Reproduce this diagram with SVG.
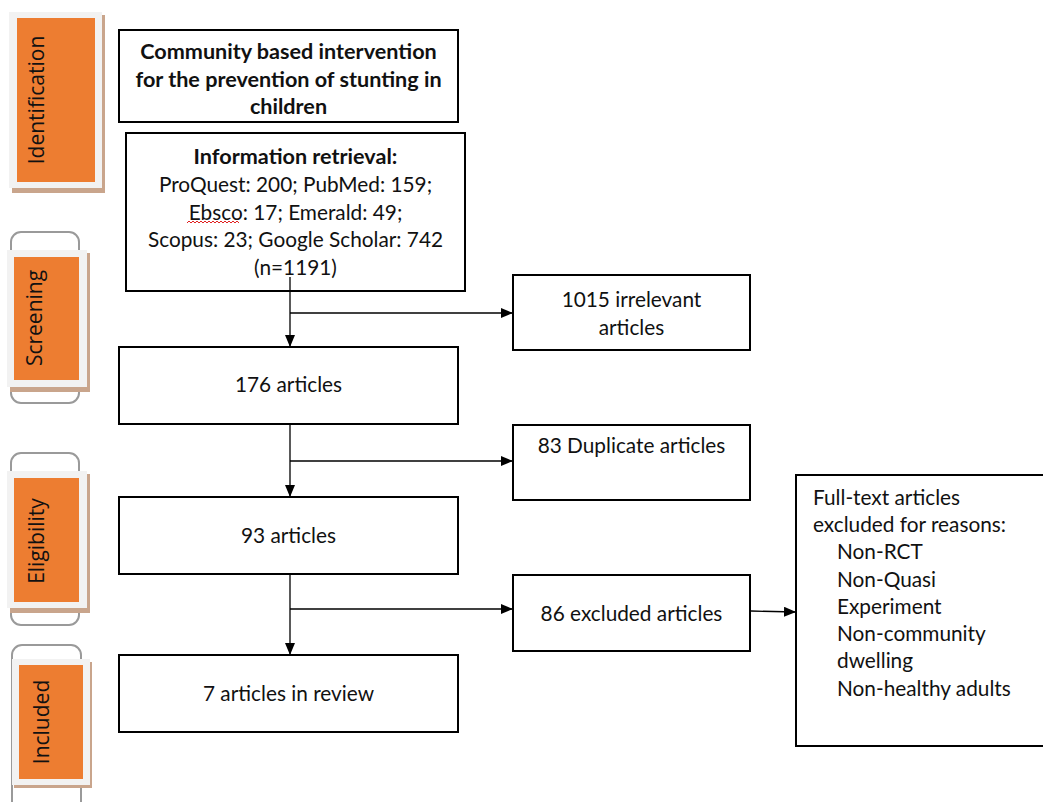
<svg xmlns="http://www.w3.org/2000/svg" width="1043" height="802" viewBox="0 0 1043 802">
<style>
.box{fill:#fff;stroke:#000;stroke-width:2}
.t{font-family:Lato,"Liberation Sans",sans-serif;font-size:20.8px;fill:#111;text-anchor:middle}
.b{font-weight:bold;font-size:21.6px}
.l{text-anchor:start}
.conn{stroke:#000;stroke-width:1.3;fill:none}
.br{fill:none;stroke:#9a9a9a;stroke-width:2}
.gr{fill:#f2f2f2}
.sh{fill:#c9a58c}
.or{fill:#ed7d31}
.side{font-family:"Open Sans","Noto Sans",sans-serif;font-size:21px;fill:#111;text-anchor:middle}
</style>
<defs>
<marker id="ah" markerWidth="12" markerHeight="10" refX="12" refY="5" orient="auto" markerUnits="userSpaceOnUse">
<path d="M0,0 L12,5 L0,10 Z" fill="#000"/>
</marker>
</defs>
<rect width="1043" height="802" fill="#fff"/>

<g id="stage-identification">
<rect class="sh" x="12" y="15" width="93" height="178"/>
<rect class="gr" x="9" y="12" width="93" height="176"/>
<rect class="or" x="17" y="18" width="78" height="164"/>
<text class="side" transform="translate(37,100) rotate(-90)" dy="7">Identification</text>
</g>
<g id="stage-screening">
<rect class="br" x="11" y="232" width="68" height="171" rx="10"/>
<rect class="sh" x="10" y="253" width="80" height="139"/>
<rect class="gr" x="7" y="250" width="80" height="137"/>
<rect class="or" x="14" y="257" width="65" height="123"/>
<text class="side" transform="translate(35,318) rotate(-90)" dy="7">Screening</text>
</g>
<g id="stage-eligibility">
<rect class="br" x="11" y="453" width="68" height="172" rx="10"/>
<rect class="sh" x="10" y="474" width="80" height="139"/>
<rect class="gr" x="7" y="471" width="80" height="137"/>
<rect class="or" x="14" y="478" width="65" height="124"/>
<text class="side" transform="translate(37,541) rotate(-90)" dy="7">Eligibility</text>
</g>
<g id="stage-included">
<rect class="br" x="12" y="645" width="69" height="170" rx="10"/>
<rect class="sh" x="14" y="662" width="78" height="126"/>
<rect class="gr" x="12" y="659" width="78" height="126"/>
<rect class="or" x="19" y="665" width="64" height="114"/>
<text class="side" transform="translate(42,722) rotate(-90)" dy="7">Included</text>
</g>

<g id="title">
<rect class="box" x="119" y="30" width="339" height="92"/>
<text class="t b" x="288.5" y="59">Community based intervention</text>
<text class="t b" x="288.5" y="87">for the prevention of stunting in</text>
<text class="t b" x="288.5" y="114">children</text>
</g>
<g id="retrieval">
<rect class="box" x="126" y="133" width="339" height="158"/>
<text class="t b" x="295.5" y="164">Information retrieval:</text>
<text class="t" x="295.5" y="192">ProQuest: 200; PubMed: 159;</text>
<text class="t" x="295.5" y="220">Ebsco: 17; Emerald: 49;</text>
<path d="M187,223 l2,-2 l2,2 l2,-2 l2,2 l2,-2 l2,2 l2,-2 l2,2 l2,-2 l2,2 l2,-2 l2,2 l2,-2 l2,2 l2,-2 l2,2 l2,-2 l2,2 l2,-2 l2,2 l2,-2 l2,2 l2,-2 l2,2 l2,-2 l2,2" fill="none" stroke="#e02020" stroke-width="1"/>
<text class="t" x="295.5" y="247">Scopus: 23; Google Scholar: 742</text>
<text class="t" x="295.5" y="275">(n=1191)</text>
</g>
<g id="irrelevant">
<rect class="box" x="513" y="275" width="237" height="75"/>
<text class="t" x="631.5" y="307">1015 irrelevant</text>
<text class="t" x="631.5" y="335">articles</text>
</g>
<g id="a176">
<rect class="box" x="119" y="347" width="339" height="77"/>
<text class="t" x="288.5" y="392">176 articles</text>
</g>
<g id="duplicate">
<rect class="box" x="513" y="425" width="237" height="75"/>
<text class="t" x="631.5" y="453">83 Duplicate articles</text>
</g>
<g id="a93">
<rect class="box" x="119" y="497" width="339" height="77"/>
<text class="t" x="288.5" y="543">93 articles</text>
</g>
<g id="excluded">
<rect class="box" x="513" y="575" width="237" height="76"/>
<text class="t" x="631.5" y="621">86 excluded articles</text>
</g>
<g id="a7">
<rect class="box" x="119" y="655" width="339" height="77"/>
<text class="t" x="288.5" y="701">7 articles in review</text>
</g>
<g id="reasons">
<rect class="box" x="796" y="475" width="260" height="271"/>
<text class="t l" x="813" y="505">Full-text articles</text>
<text class="t l" x="813" y="532">excluded for reasons:</text>
<text class="t l" x="837" y="559">Non-RCT</text>
<text class="t l" x="837" y="587">Non-Quasi</text>
<text class="t l" x="837" y="614">Experiment</text>
<text class="t l" x="837" y="641">Non-community</text>
<text class="t l" x="837" y="668">dwelling</text>
<text class="t l" x="837" y="696">Non-healthy adults</text>
</g>

<g id="connectors">
<line class="conn" x1="290" y1="277" x2="290" y2="347" marker-end="url(#ah)"/>
<line class="conn" x1="290" y1="313" x2="513" y2="313" marker-end="url(#ah)"/>
<line class="conn" x1="290" y1="424" x2="290" y2="497" marker-end="url(#ah)"/>
<line class="conn" x1="290" y1="461" x2="513" y2="461" marker-end="url(#ah)"/>
<line class="conn" x1="290" y1="574" x2="290" y2="655" marker-end="url(#ah)"/>
<line class="conn" x1="290" y1="609" x2="513" y2="609" marker-end="url(#ah)"/>
<line class="conn" x1="751" y1="611" x2="796" y2="612" marker-end="url(#ah)"/>
</g>
</svg>
